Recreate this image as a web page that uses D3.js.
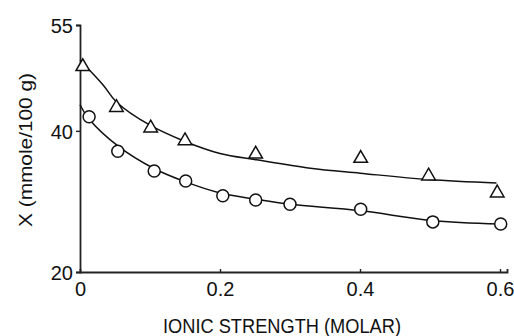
<!DOCTYPE html>
<html>
<head>
<meta charset="utf-8">
<script src="https://cdn.jsdelivr.net/npm/d3@7"></script>
<style>
  html, body { margin: 0; padding: 0; background: #fff; }
  svg { display: block; }
  text { font-family: "Liberation Sans", Arial, sans-serif; fill: #111; }
</style>
</head>
<body>
<svg id="chart" width="514" height="336"></svg>
<script>
// measured points (ionic strength, X)
const triX = [0.004, 0.052, 0.101, 0.150, 0.251, 0.401, 0.498, 0.596];
const triY = [49.1, 43.3, 40.4, 38.6, 36.7, 36.1, 33.6, 31.2];
const circX = [0.013, 0.054, 0.106, 0.151, 0.204, 0.251, 0.300, 0.401, 0.504, 0.601];
const circY = [42.0, 37.1, 34.3, 32.9, 30.8, 30.2, 29.6, 28.9, 27.1, 26.8];

// fitted curves
const triCurveX = [0, 0.033, 0.052, 0.100, 0.150, 0.200, 0.252, 0.329, 0.400, 0.498, 0.595];
const triCurveY = [50.0, 46.5, 44.1, 40.8, 38.5, 36.8, 35.9, 34.7, 34.0, 33.1, 32.6];
const circCurveX = [0, 0.012, 0.055, 0.105, 0.150, 0.200, 0.252, 0.300, 0.400, 0.502, 0.600];
const circCurveY = [43.7, 41.8, 37.8, 34.7, 32.8, 31.2, 30.3, 29.6, 28.7, 27.3, 26.8];

const xTicks = [0, 0.2, 0.4, 0.6];
const yTicks = [20, 40, 55];

const svg = d3.select('#chart');
const x = d3.scaleLinear().domain([0, 0.61]).range([80, 507]);
const y = d3.scaleLinear().domain([20, 55]).range([272, 25]);

const zip = (xs, ys) => xs.map((v, i) => [v, ys[i]]);

// axes
const yAxis = svg.append('g')
    .attr('transform', `translate(${x(0)},0)`)
    .call(d3.axisLeft(y).tickValues(yTicks).tickSize(4).tickPadding(3).tickFormat(d3.format('d')));
const xAxis = svg.append('g')
    .attr('transform', `translate(0,${y(20)})`)
    .call(d3.axisBottom(x).tickValues(xTicks).tickSize(-3).tickPadding(8).tickFormat(d => d === 0 ? '0' : d3.format('.1f')(d)));

[xAxis, yAxis].forEach(a => {
    a.select('.domain').attr('stroke', '#222').attr('stroke-width', 1.8);
    a.selectAll('.tick line').attr('stroke', '#222').attr('stroke-width', 1.4);
    a.selectAll('.tick text').attr('font-size', 20).attr('fill', '#111')
        .attr('font-family', '"Liberation Sans", Arial, sans-serif');
});
xAxis.selectAll('.tick').filter(d => d === 0).select('line').remove();
xAxis.selectAll('.tick text').attr('dy', '0.71em').attr('y', 10);
yAxis.selectAll('.tick text').attr('dy', '0.36em');

// curves
const line = d3.line()
    .x(d => x(d[0]))
    .y(d => y(d[1]))
    .curve(d3.curveCatmullRom.alpha(0.5));

svg.selectAll('path.fit')
    .data([zip(triCurveX, triCurveY), zip(circCurveX, circCurveY)])
    .join('path')
    .attr('class', 'fit')
    .attr('d', line)
    .attr('fill', 'none')
    .attr('stroke', '#111')
    .attr('stroke-width', 1.5);

// markers
svg.selectAll('path.tri')
    .data(zip(triX, triY))
    .join('path')
    .attr('class', 'tri')
    .attr('transform', d => `translate(${x(d[0])},${y(d[1])})`)
    .attr('d', d3.symbol(d3.symbolTriangle, 80))
    .attr('fill', '#fff')
    .attr('stroke', '#111')
    .attr('stroke-width', 1.5);

svg.selectAll('circle.pt')
    .data(zip(circX, circY))
    .join('circle')
    .attr('class', 'pt')
    .attr('cx', d => x(d[0]))
    .attr('cy', d => y(d[1]))
    .attr('r', 6)
    .attr('fill', '#fff')
    .attr('stroke', '#111')
    .attr('stroke-width', 1.5);

// titles
svg.append('text')
    .attr('x', 282).attr('y', 333)
    .attr('text-anchor', 'middle')
    .attr('font-size', 20)
    .attr('textLength', 238)
    .attr('lengthAdjust', 'spacingAndGlyphs')
    .text('IONIC STRENGTH (MOLAR)');

svg.append('text')
    .attr('transform', 'translate(32,150) rotate(-90)')
    .attr('text-anchor', 'middle')
    .attr('font-size', 19)
    .attr('textLength', 154)
    .attr('lengthAdjust', 'spacingAndGlyphs')
    .text('X (mmole/100 g)');
</script>
</body>
</html>
